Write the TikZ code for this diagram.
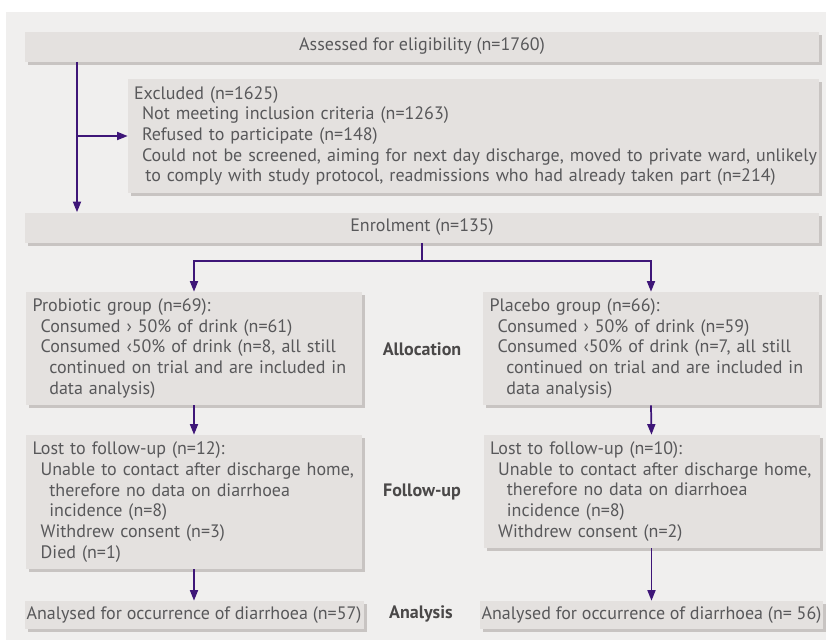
\documentclass[tikz,border=0pt]{standalone}
\usepackage{fontspec}
\setmainfont{PT Sans}
\usetikzlibrary{arrows.meta,shadows}
\hyphenpenalty=10000
\definecolor{pagebg}{RGB}{240,239,238}
\definecolor{boxfill}{RGB}{228,225,223}
\definecolor{boxshade}{RGB}{200,196,194}
\definecolor{flowline}{RGB}{62,22,120}
\definecolor{boxtext}{RGB}{88,88,90}
\definecolor{stagetext}{RGB}{74,72,72}
\newcommand{\lvA}{\hspace*{6pt}}
\newcommand{\lvB}{\hspace*{12.5pt}}
\tikzset{
  box/.style={fill=boxfill,inner xsep=5pt,inner ysep=0pt,text=boxtext,
    font=\fontsize{13.5}{15.5}\selectfont,
    drop shadow={shadow xshift=2.25pt,shadow yshift=-2.25pt,fill=boxshade,opacity=1}},
  wide/.style={box,minimum width=595.5pt,minimum height=22.5pt},
  arm/.style={box,minimum width=252pt,text width=242pt,align=left},
  result/.style={box,inner xsep=1.5pt,minimum width=252pt,minimum height=21pt},
  stage/.style={text=stagetext,font=\fontsize{13.5}{15}\selectfont\bfseries},
  arr/.style={draw=flowline,line width=1.3pt,-{Triangle[length=8pt,width=6pt]}},
  link/.style={draw=flowline,line width=1.3pt}
}
\begin{document}
\begin{tikzpicture}[x=0.75pt,y=-0.75pt]
            % page and background
            \useasboundingbox (0,0) rectangle (826,640);
            \fill [pagebg] (6,12) rectangle (826,640);
            % enrolment part
            \node [wide] (assess) at (422,46.5) {Assessed for eligibility (n=1760)};
            \node [box,inner xsep=4.5pt,minimum width=518.25pt,minimum height=85.5pt,text width=509.25pt,align=left] (excl) at (473.5,136) {Excluded (n=1625)\\
              \lvA Not meeting inclusion criteria (n=1263)\\
              \lvA Refused to participate (n=148)\\
              \lvA\mbox{Could not be screened, aiming for next day discharge, moved to private ward, unlikely}\\
              \hspace*{8.5pt}to comply with study protocol, readmissions who had already taken part (n=214)};
            \node [wide] (enrol) at (422,227.5) {Enrolment (n=135)};
            % two arms
            \node [arm,minimum height=84.75pt] (prob) at (194,348.5) {Probiotic group (n=69):\\
              \lvA Consumed › 50\% of drink (n=61)\\
              \lvA Consumed ‹50\% of drink (n=8, all still\\
              \lvB continued on trial and are included in\\
              \lvB data analysis)};
            \node [arm,minimum height=84.75pt] (plac) at (651,348.5) {Placebo group (n=66):\\
              \lvA Consumed › 50\% of drink (n=59)\\
              \lvA Consumed ‹50\% of drink (n=7, all still\\
              \lvB continued on trial and are included in\\
              \lvB data analysis)};
            \node [arm,minimum height=100.5pt] (lostA) at (194,502) {Lost to follow-up (n=12):\\
              \lvA Unable to contact after discharge home,\\
              \lvB therefore no data on diarrhoea\\
              \lvB incidence (n=8)\\
              \lvA Withdrew consent (n=3)\\
              \lvA Died (n=1)};
            \node [arm,minimum height=84.75pt] (lostB) at (651.5,491.5) {Lost to follow-up (n=10):\\
              \lvA Unable to contact after discharge home,\\
              \lvB therefore no data on diarrhoea\\
              \lvB incidence (n=8)\\
              \lvA Withdrew consent (n=2)};
            \node [result] (anA) at (194,615) {Analysed for occurrence of diarrhoea (n=57)};
            \node [result,minimum width=252.75pt] (anB) at (651.5,615) {Analysed for occurrence of diarrhoea (n= 56)};
            % stage labels
            \node [stage] (alloc) at (422,349) {Allocation};
            \node [stage] (follow) at (422,492) {Follow-up};
            \node [stage] (analys) at (421,614) {Analysis};
            % connectors
            \coordinate (trunk) at (77,0);
            \draw [arr] (trunk |- assess.south) -- (trunk |- enrol.north);
            \draw [arr] (trunk |- excl.west) -- (excl.west);
            \draw [link] (enrol.south) -- ++(0,18) coordinate (split);
            \draw [arr] (split) -| (prob.north);
            \draw [arr] (split) -| (plac.north);
            \draw [arr] (prob.south) -- (lostA.north);
            \draw [arr] (plac.south) -- (lostB.north);
            \draw [arr] (lostA.south) -- (anA.north);
            \draw [arr] (lostB.south) -- (anB.north);
        \end{tikzpicture}
\end{document}
